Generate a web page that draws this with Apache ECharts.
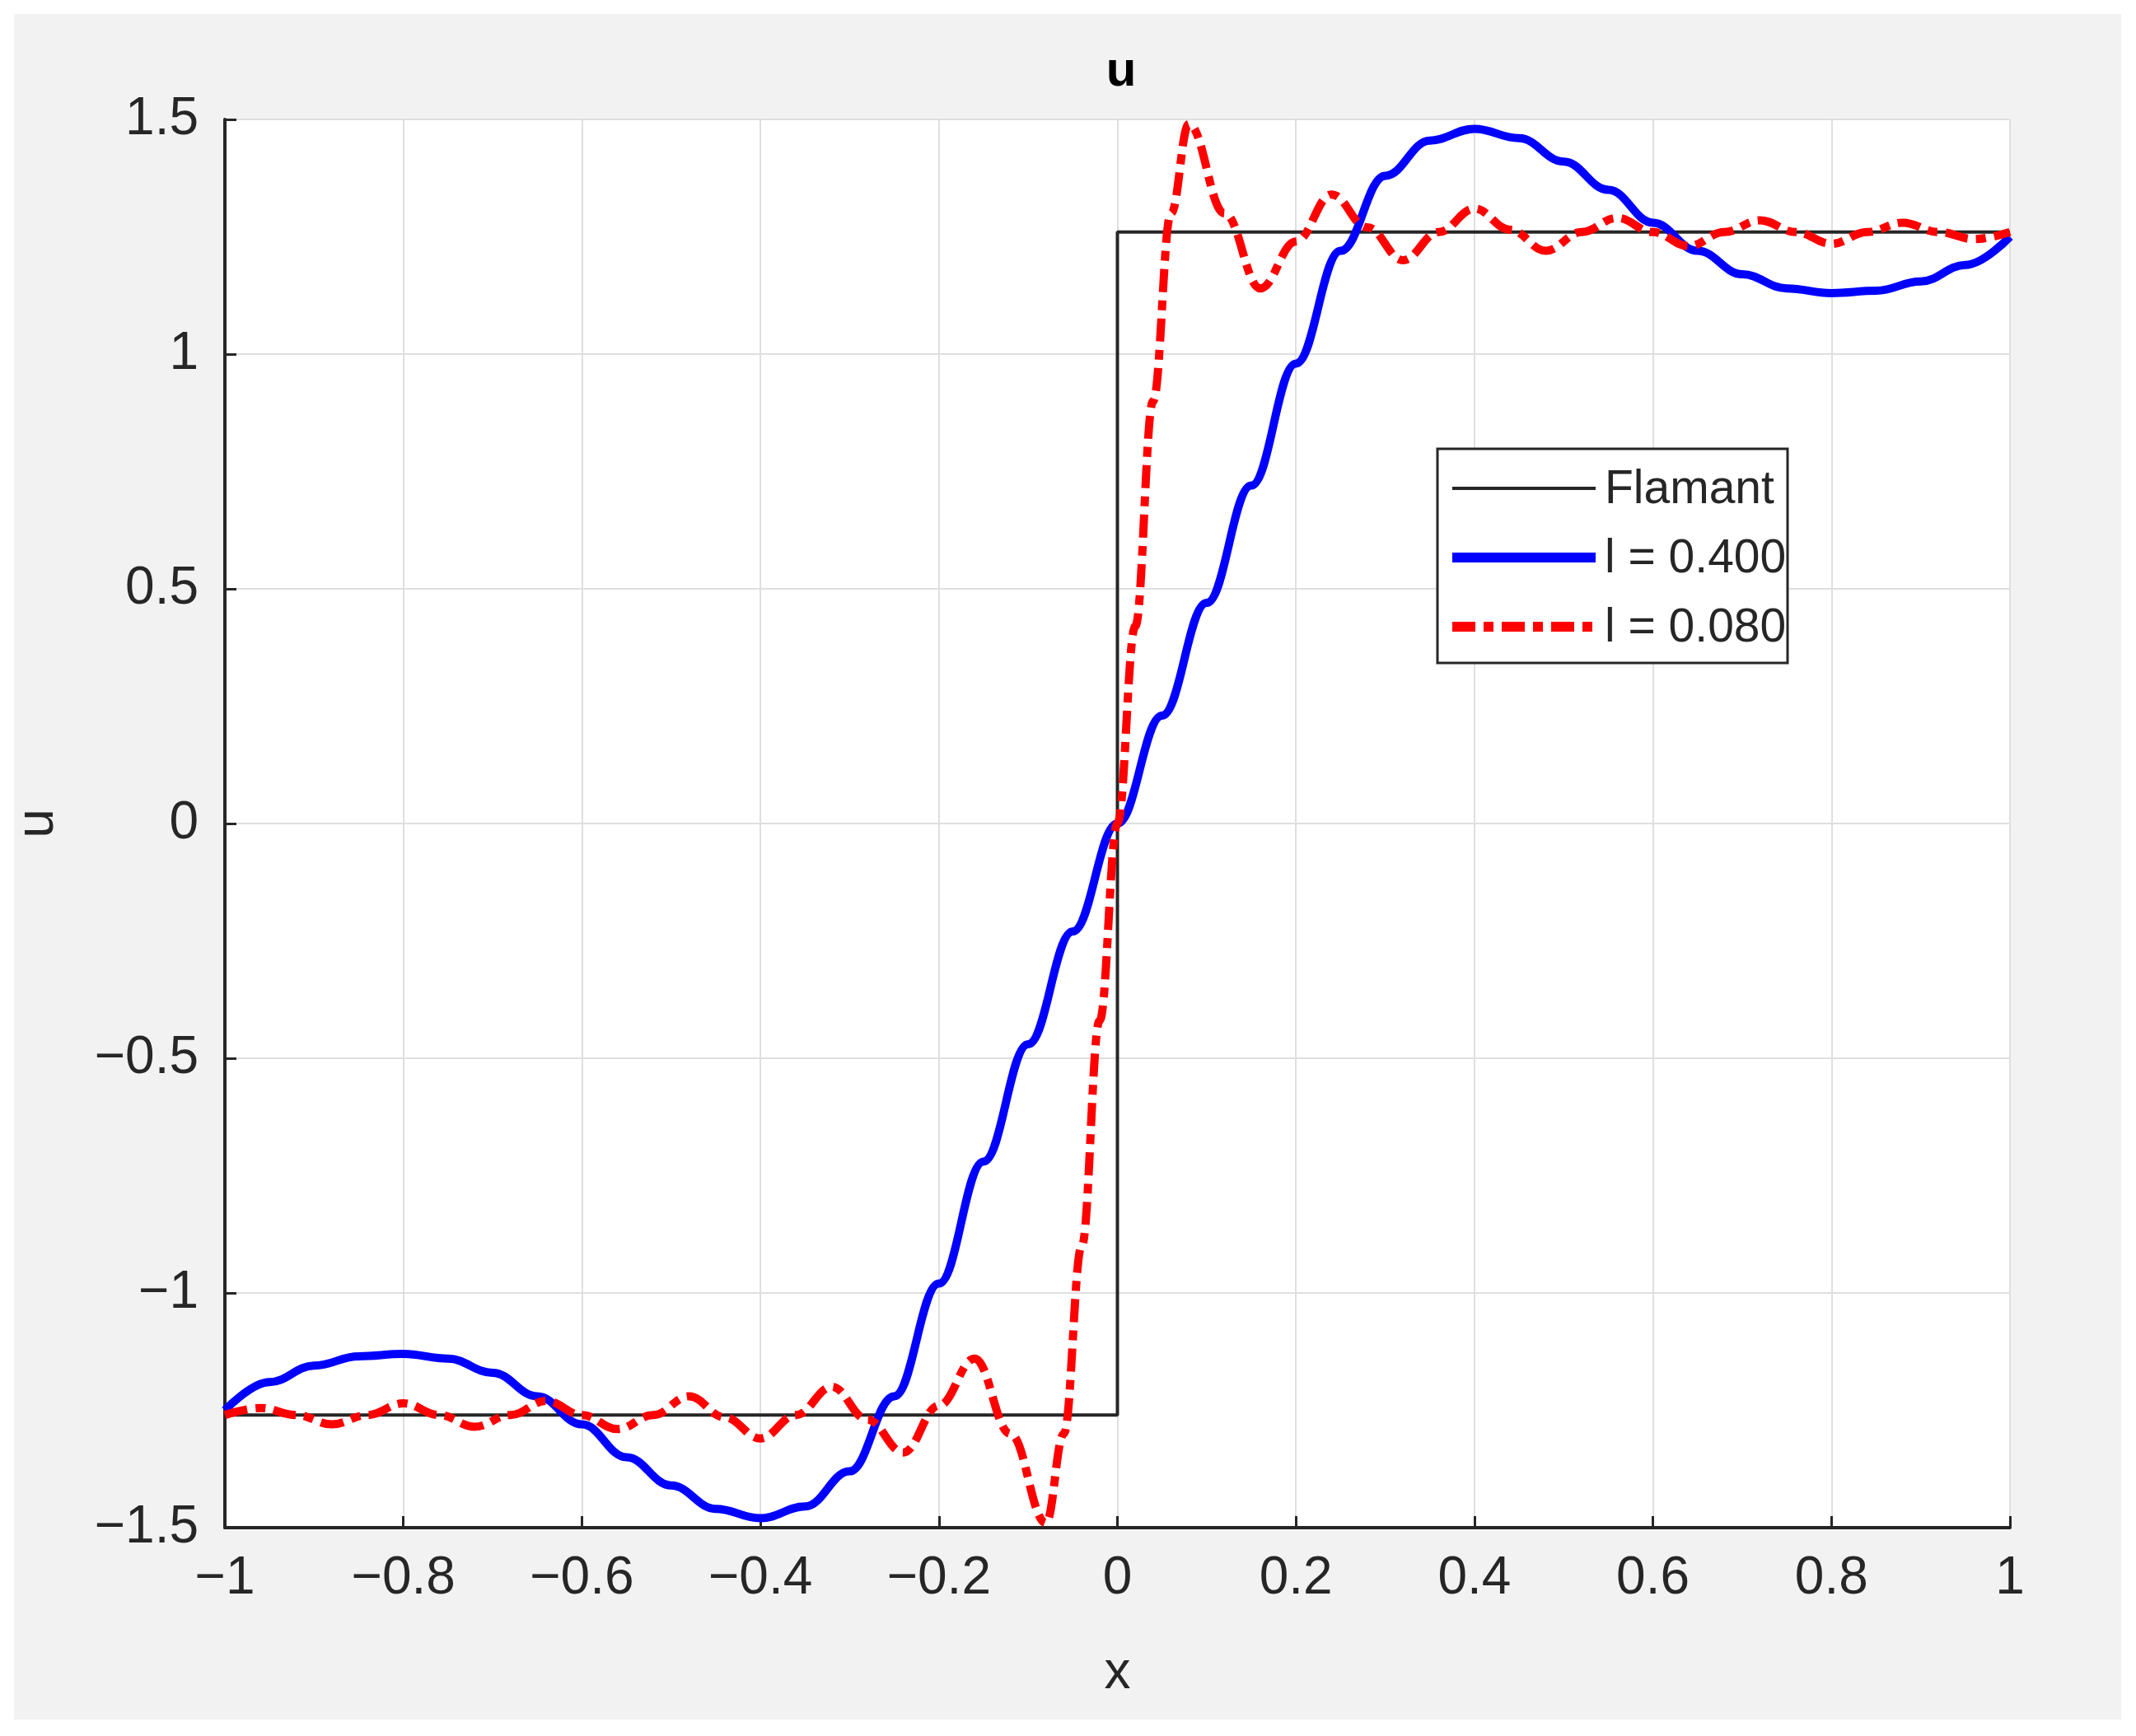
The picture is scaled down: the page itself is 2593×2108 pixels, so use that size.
<!DOCTYPE html>
<html><head><meta charset="utf-8">
<script src="https://cdn.jsdelivr.net/npm/echarts@6/dist/echarts.min.js"></script>
<style>html,body{margin:0;padding:0;background:#fff}#c{width:2593px;height:2108px}</style>
</head><body><div id="c"></div>
<script>
const xTicks = [-1,-0.8,-0.6,-0.4,-0.2,0,0.2,0.4,0.6,0.8,1];
const yTicks = [-1.5,-1,-0.5,0,0.5,1,1.5];
const flamantX = [-1, 0, 0, 1];
const flamantU = [-1.26, -1.26, 1.26, 1.26];
const blueX = [-1,-0.95,-0.9,-0.85,-0.8,-0.75,-0.7,-0.65,-0.6,-0.55,-0.5,-0.45,-0.4,-0.35,-0.3,-0.25,-0.2,-0.15,-0.1,-0.05,0,0.05,0.1,0.15,0.2,0.25,0.3,0.35,0.4,0.45,0.5,0.55,0.6,0.65,0.7,0.75,0.8,0.85,0.9,0.95,1];
const blueU = [-1.25,-1.19,-1.155,-1.135,-1.13,-1.14,-1.17,-1.22,-1.28,-1.35,-1.41,-1.46,-1.48,-1.455,-1.38,-1.22,-0.98,-0.72,-0.47,-0.23,0,0.23,0.47,0.72,0.98,1.22,1.38,1.455,1.48,1.46,1.41,1.35,1.28,1.22,1.17,1.14,1.13,1.135,1.155,1.19,1.25];
const redX = [-1,-0.96,-0.92,-0.88,-0.84,-0.8,-0.76,-0.72,-0.68,-0.64,-0.6,-0.56,-0.52,-0.48,-0.44,-0.4,-0.36,-0.32,-0.28,-0.24,-0.2,-0.16,-0.12,-0.08,-0.06,-0.04,-0.02,0,0.02,0.04,0.06,0.08,0.12,0.16,0.2,0.24,0.28,0.32,0.36,0.4,0.44,0.48,0.52,0.56,0.6,0.64,0.68,0.72,0.76,0.8,0.84,0.88,0.92,0.96,1];
const redU = [-1.26,-1.245,-1.26,-1.28,-1.26,-1.235,-1.26,-1.285,-1.26,-1.23,-1.26,-1.29,-1.26,-1.22,-1.265,-1.31,-1.26,-1.2,-1.27,-1.34,-1.24,-1.14,-1.3,-1.49,-1.3,-0.9,-0.42,0,0.42,0.9,1.3,1.49,1.3,1.14,1.24,1.34,1.27,1.2,1.26,1.31,1.265,1.22,1.26,1.29,1.26,1.23,1.26,1.285,1.26,1.235,1.26,1.28,1.26,1.245,1.26];
const zip = (a,b)=>a.map((v,i)=>[v,b[i]]);
const F = 'Arial, "Liberation Sans", Helvetica, sans-serif';
const fmt = v => { let s = (Math.round(v*10)/10).toString(); return s.replace('-', '\u2212'); };
const legendItems = [
  {name:'Flamant', color:'#262626', width:4, dash:null},
  {name:'l = 0.400', color:'#0000ff', width:12, dash:null},
  {name:'l = 0.080', color:'#ff0000', width:12, dash:[28,10,12,10]}
];
const chart = echarts.init(document.getElementById('c'));
const lg = [{type:'rect',shape:{x:1745,y:545,width:425,height:260},style:{fill:'#fff',stroke:'#262626',lineWidth:3}}];
legendItems.forEach((it,i)=>{
  const y = 593 + i*84;
  lg.push({type:'line',shape:{x1:1763,y1:y,x2:1937,y2:y},style:{stroke:it.color,lineWidth:it.width,lineDash:it.dash}});
  lg.push({type:'text',x:1948,y:y+2,style:{text:it.name,font:'57px '+F,fill:'#262626',verticalAlign:'middle'}});
});
chart.setOption({
  animation:false,
  backgroundColor:'#fff',
  graphic:{elements:[{type:'rect',z:-10,silent:true,shape:{x:17,y:17,width:2558,height:2071},style:{fill:'#f2f2f2'}},
    {type:'rect',z:-9,shape:{x:273,y:145,width:2167,height:1710},style:{fill:'#fff'}}].concat(lg.map(e=>Object.assign({z:100},e)))},
  title:{text:'u',left:1356,top:52,textAlign:'center',textStyle:{fontFamily:F,fontWeight:'bold',fontSize:60,color:'#000'}},
  grid:{left:273,top:145,width:2167,height:1710},
  xAxis:{type:'value',min:-1,max:1,interval:0.2,name:'x',nameLocation:'middle',nameGap:145,
    nameTextStyle:{fontFamily:F,fontSize:64,color:'#262626'},
    axisLine:{onZero:false,lineStyle:{color:'#262626',width:4}},
    axisTick:{inside:true,length:14,lineStyle:{color:'#262626',width:3}},
    axisLabel:{fontFamily:F,fontSize:64,color:'#262626',margin:30,formatter:fmt},
    splitLine:{show:true,lineStyle:{color:'#dfdfdf',width:2}}},
  yAxis:{type:'value',min:-1.5,max:1.5,interval:0.5,name:'u',nameLocation:'middle',nameGap:195,
    nameTextStyle:{fontFamily:F,fontSize:64,color:'#262626'},
    axisLine:{show:true,onZero:false,lineStyle:{color:'#262626',width:4}},
    axisTick:{show:true,inside:true,length:14,lineStyle:{color:'#262626',width:3}},
    axisLabel:{fontFamily:F,fontSize:64,color:'#262626',margin:32,formatter:fmt},
    splitLine:{show:true,lineStyle:{color:'#dfdfdf',width:2}}},
  series:[
    {type:'line',name:'Flamant',data:zip(flamantX,flamantU),symbol:'none',lineStyle:{color:'#262626',width:4}},
    {type:'line',name:'l = 0.400',data:zip(blueX,blueU),symbol:'none',smooth:0.4,smoothMonotone:'x',lineStyle:{color:'#0000ff',width:10}},
    {type:'line',name:'l = 0.080',data:zip(redX,redU),symbol:'none',smooth:0.4,smoothMonotone:'x',lineStyle:{color:'#ff0000',width:10,type:[28,10,12,10]}}
  ]
});
</script></body></html>
